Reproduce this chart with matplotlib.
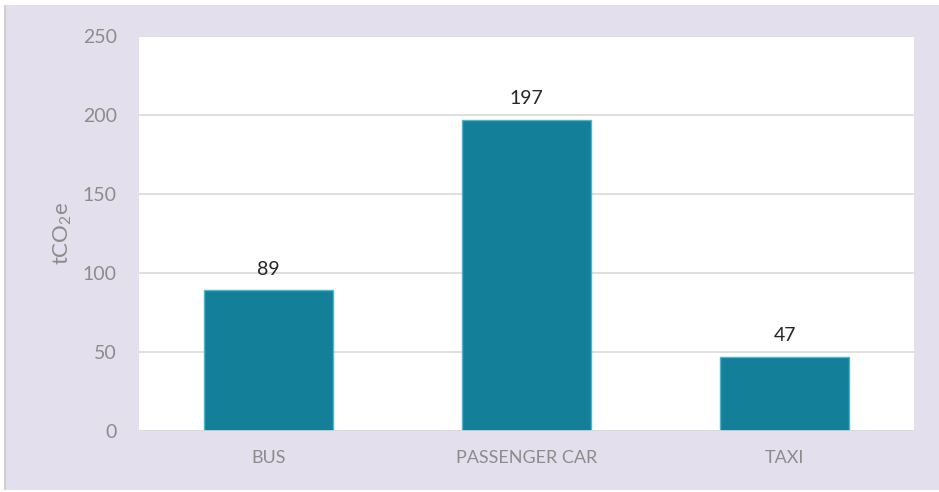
import matplotlib
matplotlib.use("Agg")
import matplotlib.pyplot as plt
from matplotlib.patches import Rectangle

# data
categories = ["BUS", "PASSENGER CAR", "TAXI"]
emissions = [89, 197, 47]
y_ticks = [0, 50, 100, 150, 200, 250]

BG = "#E4DFEC"
BAR = "#137F99"
EDGE = "#4FB5CC"
GREY = "#8C8C8C"

plt.rcParams['font.family'] = ['Lato', 'DejaVu Sans']
plt.rcParams['mathtext.fontset'] = 'custom'
plt.rcParams['mathtext.rm'] = 'Lato'
plt.rcParams['mathtext.it'] = 'Lato'

W, H = 939, 492
fig = plt.figure(figsize=(W / 100, H / 100), dpi=100)
fig.patch.set_facecolor("white")

# lavender chart panel with a thin grey left border
fig.patches.append(Rectangle((4 / W, 2 / H), 935 / W, (H - 7) / H, transform=fig.transFigure,
                             facecolor=BG, edgecolor="none", zorder=-10))
fig.patches.append(Rectangle((4 / W, 2 / H), 1.5 / W, (H - 7) / H, transform=fig.transFigure,
                             facecolor="#D0D0D0", edgecolor="none", zorder=-10))

left, right, top, bottom = 139, 914, 36, 431
ax = fig.add_axes([left / W, 1 - bottom / H, (right - left) / W, (bottom - top) / H])
ax.set_facecolor("white")

x = range(len(categories))
bars = ax.bar(x, emissions, width=0.5, color=BAR, edgecolor=EDGE, linewidth=1.0, zorder=3)
ax.bar_label(bars, labels=[str(v) for v in emissions], padding=9, fontsize=14, color="#262626")

ax.set_xlim(-0.5, len(categories) - 0.5)
ax.set_ylim(0, 250)
ax.set_yticks(y_ticks)
ax.set_xticks(list(x))
ax.set_xticklabels(categories)
ax.grid(axis="y", color="#D9D9D9", linewidth=1.2, zorder=0)
ax.tick_params(axis="both", length=0, labelcolor=GREY, labelsize=14)
ax.tick_params(axis="y", pad=16)
ax.tick_params(axis="x", pad=14, labelsize=13)
for s in ax.spines.values():
    s.set_visible(False)
ax.axhline(0, color="#D9D9D9", linewidth=1.2, zorder=4)

ax.set_ylabel(r"tCO$_2$e", color=GREY, fontsize=16, labelpad=6)

fig.savefig("out.png", dpi=100)
